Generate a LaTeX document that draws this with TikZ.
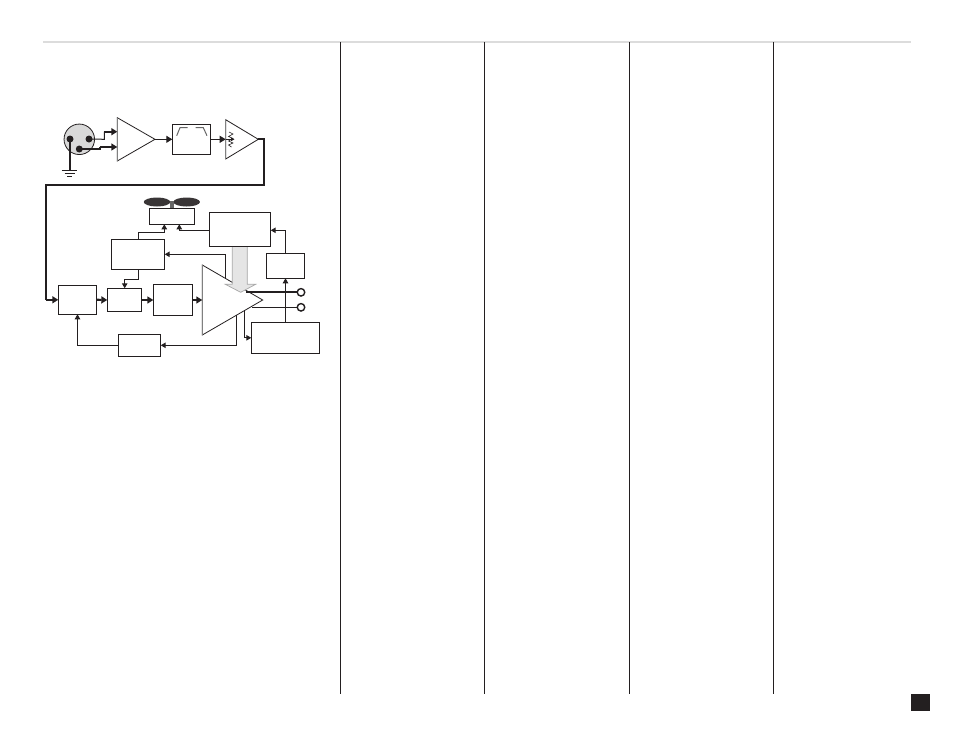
\documentclass[tikz,border=0pt]{standalone}
\usepackage{tikz}
\usetikzlibrary{positioning,arrows.meta,shapes.geometric}
\definecolor{inkdark}{HTML}{231F20}
\definecolor{rulegray}{HTML}{DCDCDC}
\tikzset{
	blockbox/.style={draw=inkdark,line width=1.1pt,fill=white,inner sep=0pt,outer sep=0pt},
	ampedge/.style={draw=inkdark,line width=0.8pt,fill=white,line join=miter},
	ampleft/.style={draw=gray,line width=1pt},
	thinwire/.style={draw=inkdark,line width=1pt},
	thickwire/.style={draw=inkdark,line width=2.2pt},
	tiptri/.style={-{Triangle[length=5pt,width=5.5pt]}},
	tipbig/.style={-{Triangle[length=6pt,width=7pt]}},
	jackdot/.style={circle,fill=inkdark,minimum size=7pt,inner sep=0pt},
	outjack/.style={circle,draw=inkdark,line width=1.4pt,fill=white,minimum size=7.5pt,inner sep=0pt},
	fanblade/.style={ellipse,fill=inkdark!90,minimum width=26.5pt,minimum height=9pt,inner sep=0pt},
}
\begin{document}
\begin{tikzpicture}[x=1pt,y=-1pt]
		\useasboundingbox (0,0) rectangle (954,737);
		% page rules
		\coordinate (ruleleft) at (43,42);
		\coordinate (ruleright) at (911,42);
		\draw[rulegray,line width=1.8pt] (ruleleft) -- (ruleright);
		\foreach \colx in {340.5,484.5,629.5,773.5}
			\draw[inkdark,line width=0.8pt] (\colx,42) -- (\colx,694);
		\node[fill=inkdark,minimum width=19pt,minimum height=17pt,inner sep=0pt] (pagetab) at (920.5,702.5) {};
		% input connector
		\node[circle,draw=inkdark,line width=0.8pt,fill=black!15,minimum size=30.5pt,inner sep=0pt] (xlr) at (79.3,139.3) {};
		\node[jackdot] (pinone) at (70,139) {};
		\node[jackdot] (pintwo) at (89,139) {};
		\node[jackdot] (pinthree) at (79.3,149) {};
		\coordinate (earth) at (70,170.7);
		\draw[thickwire,line width=1.7pt] (pinone.center) -- (earth);
		\draw[thinwire,line width=1.4pt] ([xshift=-8.3pt]earth) -- ([xshift=6.7pt]earth);
		\draw[thinwire,line width=1.2pt] ([xshift=-5.5pt,yshift=-3pt]earth) -- ([xshift=4.5pt,yshift=-3pt]earth);
		\draw[thinwire,line width=1.2pt] ([xshift=-3pt,yshift=-5.8pt]earth) -- ([xshift=2pt,yshift=-5.8pt]earth);
		% input amp
		\coordinate (ampa1) at (117.3,117.7);
		\coordinate (ampa2) at (117.3,161);
		\coordinate (ampaout) at (155,139.3);
		\coordinate (ampaup) at (117.3,131.7);
		\coordinate (ampalow) at (117.3,147);
		\draw[ampedge] (ampa1) -- (ampaout) -- (ampa2) -- cycle;
		\draw[ampleft] (ampa1) -- (ampa2);
		\draw[thinwire] (pintwo.center) -- (104.3,139.3) -- (104.3,131.7);
		\draw[thickwire,tipbig] (104.3,131.7) -- (ampaup);
		\draw[thickwire,line width=1.7pt] (pinthree.center) -- (100,149) -- (100,147);
		\draw[thickwire,line width=1.7pt,tipbig] (100,147) -- (ampalow);
		% filter
		\node[blockbox,minimum width=38pt,minimum height=30pt] (filterbox) at (191.3,139.3) {};
		\draw[gray!80!black,line width=1pt] (176.7,135.7) -- (180,127.7) -- (187.7,127.7);
		\draw[gray!80!black,line width=1pt] (195.7,127.7) -- (203.3,127.7) -- (207,135.7);
		\draw[thinwire,tipbig] (ampaout) -- (filterbox.west);
		% level amp
		\coordinate (ampb1) at (225.7,119.7);
		\coordinate (ampb2) at (225.7,159);
		\coordinate (ampbout) at (258.3,139.3);
		\coordinate (ampbin) at (225.7,139.3);
		\coordinate (trimtip) at (234.5,139.3);
		\draw[ampedge] (ampb1) -- (ampbout) -- (ampb2) -- cycle;
		\draw[ampleft] (ampb1) -- (ampb2);
		\draw[thinwire,tipbig] (filterbox.east) -- (ampbin);
		\draw[inkdark,line width=0.6pt] (229,132) -- (233,134) -- (228.5,136.5) -- (233,138.5) -- (228.5,141) -- (233,143) -- (228.5,145) -- (231.5,147);
		\draw[thinwire,-{Triangle[length=3.5pt,width=3.5pt]}] (ampbin) -- (trimtip);
		% lower blocks
		\node[blockbox,minimum width=38.4pt,minimum height=29pt] (limiter) at (77.5,299.8) {};
		\node[blockbox,minimum width=34.4pt,minimum height=23.4pt] (vcabox) at (124.5,300) {};
		\node[blockbox,minimum width=38.7pt,minimum height=31.4pt] (drivebox) at (172.7,300) {};
		\node[blockbox,minimum width=53.4pt,minimum height=30pt] (fanctrl) at (138,254.3) {};
		\node[blockbox,minimum width=45.4pt,minimum height=16pt] (fanbox) at (172,216.3) {};
		\node[blockbox,minimum width=42.4pt,minimum height=22pt] (sensebox) at (139.5,345.3) {};
		\node[blockbox,minimum width=61.4pt,minimum height=34pt] (heatsink) at (240,229.3) {};
		\node[blockbox,minimum width=38.4pt,minimum height=25pt] (tempbox) at (285.5,265.8) {};
		\node[blockbox,minimum width=68.4pt,minimum height=31pt] (supplybox) at (285.5,337.8) {};
		% fan
		\node[fanblade] (bladeleft) at (157,202) {};
		\node[fanblade] (bladeright) at (186.7,202) {};
		\coordinate (fanhub) at (172,201);
		\draw[gray!80!black,line width=3.5pt] (fanhub) -- (fanbox.north);
		% power amp
		\coordinate (ampc1) at (202.3,265);
		\coordinate (ampc2) at (202.3,335);
		\coordinate (ampcout) at (262.7,300);
		\coordinate (ampcin) at (202.3,300);
		\draw[ampedge] (ampc1) -- (ampcout) -- (ampc2) -- cycle;
		\draw[ampleft] (ampc1) -- (ampc2);
		% heat arrow
		\draw[fill=black!10,draw=black!35,line width=0.7pt] (232.3,247) -- (232.3,284.3) -- (225.3,284.3) -- (240.7,292.3) -- (255.7,284.3) -- (247.3,284.3) -- (247.3,247);
		% outputs
		\node[outjack] (outhot) at (301,292.3) {};
		\node[outjack] (outcold) at (301,307.3) {};
		\coordinate (hotstart) at (246,292.3);
		\coordinate (coldstart) at (252,307.3);
		\draw[thickwire] (hotstart) -- (outhot.west);
		\draw[thinwire] (coldstart) -- (outcold.west);
		% signal path
		\coordinate (leadin) at (46,299.8);
		\draw[thickwire] (ampbout) -- (264,139.3) -- (264,185) -- (46,185) -- (leadin);
		\draw[thickwire,tipbig] (leadin) -- (limiter.west);
		\draw[thickwire,tipbig] (limiter.east) -- (vcabox.west);
		\draw[thickwire,tipbig] (vcabox.east) -- (drivebox.west);
		\draw[thickwire,tipbig] (drivebox.east) -- (ampcin);
		% control lines
		\coordinate (ampctapa) at (225.7,278.6);
		\coordinate (ampctapb) at (236.7,315);
		\coordinate (ampctapc) at (244.3,310.5);
		\coordinate (vcadrop) at (124.7,288.3);
		\coordinate (fanina) at (164.3,224.3);
		\coordinate (faninb) at (179.3,224.3);
		\coordinate (heatleft) at (209.3,230.3);
		\coordinate (heatright) at (270.7,230.3);
		\draw[thinwire,tiptri] (ampctapa) |- (fanctrl.east);
		\draw[thinwire,tiptri] (fanctrl.south) -- (138,279.3) -| (vcadrop);
		\draw[thinwire,tiptri] (fanctrl.north) -- (138,232.3) -| (fanina);
		\draw[thinwire,tiptri] (heatleft) -| (faninb);
		\draw[thinwire,tiptri] (tempbox.north) |- (heatright);
		\draw[thinwire,tiptri] (supplybox.north) -- (tempbox.south);
		\draw[thinwire,tiptri] (ampctapb) |- (sensebox.east);
		\draw[thinwire,tiptri] (sensebox.west) -| (limiter.south);
		\draw[thinwire,tiptri] (ampctapc) |- (supplybox.west);
		\end{tikzpicture}
\end{document}
